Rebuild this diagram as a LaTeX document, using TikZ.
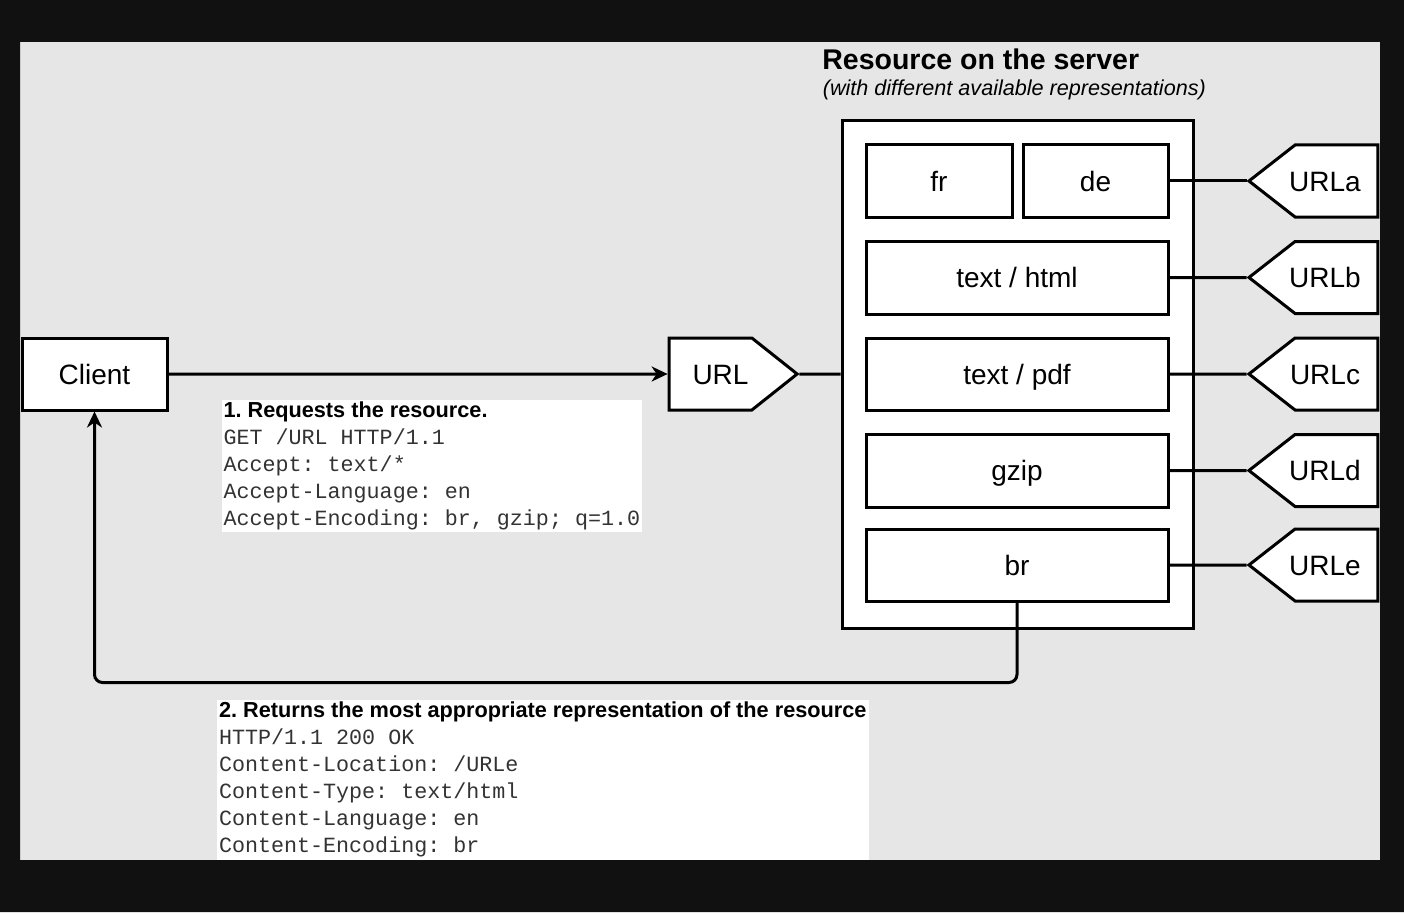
\documentclass[tikz,border=0pt]{standalone}
\usepackage{fontspec}
\setmainfont{Liberation Sans}
\setmonofont{Liberation Mono}
\usetikzlibrary{arrows.meta,shapes.symbols}
\definecolor{canvas}{HTML}{E6E6E6}
\definecolor{frame}{HTML}{111111}
\definecolor{codegray}{HTML}{333333}
\newcommand{\notehead}{\bfseries\fontsize{21.7}{27}\selectfont}
\frenchspacing

\begin{document}
\begin{tikzpicture}[x=1pt,y=-1pt,line width=3pt,>={Stealth[length=16pt,width=15pt,inset=5pt]},
  box/.style={rectangle,draw,fill=white,inner sep=0pt,text height=23pt,text depth=3pt,font=\fontsize{28}{32}\selectfont},
  tag/.style={signal,draw,fill=white,inner sep=0pt,minimum height=72pt,text height=23pt,text depth=3pt,font=\fontsize{28}{32}\selectfont},
  urltag/.style={tag,signal to=west,signal from=nowhere,signal pointer angle=76,minimum width=129pt},
  note/.style={fill=white,anchor=north west,align=left,inner xsep=2pt,inner ysep=2pt,font=\fontsize{21.7}{27}\selectfont}]
  \useasboundingbox (0,0) rectangle (1404,912);
  \fill[canvas] (20,42) rectangle (1380,860);

  \node[box,minimum width=145pt,minimum height=72pt] (client) at (94.5,374) {Client};
  \node[tag,signal to=east,signal from=nowhere,signal pointer angle=77,minimum width=128pt] (url) at (710.5,374) {\hspace{20pt}URL};

  \node[box,minimum width=351pt,minimum height=507pt] (server) at (1017.5,374.5) {};
  \node[anchor=west,font=\bfseries\fontsize{28.5}{32}\selectfont] (title) at (817.5,59) {Resource on the server};
  \node[anchor=west,font=\itshape\fontsize{21.6}{26}\selectfont] (subtitle) at (818,89.5) {(with different available representations)};

  \node[box,minimum width=146pt,minimum height=72pt] (fr) at (939,181) {fr};
  \node[box,minimum width=145pt,minimum height=72pt] (de) at (1095.5,181) {de};
  \node[box,minimum width=302pt,minimum height=73pt] (html) at (1017,277.5) {text / html};
  \node[box,minimum width=302pt,minimum height=72pt] (pdf) at (1017,374) {text / pdf};
  \node[box,minimum width=302pt,minimum height=73pt] (gzip) at (1017,470.5) {gzip};
  \node[box,minimum width=302pt,minimum height=72pt] (br) at (1017,565) {br};

  \node[urltag] (urla) at (1336.5,181) {\kern-23pt URLa};
  \node[urltag] (urlb) at (1336.5,277.5) {\kern-23pt URLb};
  \node[urltag] (urlc) at (1336.5,374) {\kern-23pt URLc};
  \node[urltag] (urld) at (1336.5,470.5) {\kern-23pt URLd};
  \node[urltag] (urle) at (1336.5,565) {\kern-23pt URLe};

  \node[note] (request) at (220,398) {{\notehead 1. Requests the resource.}\\
    \ttfamily\color{codegray}GET /URL HTTP/1.1\\
    \ttfamily\color{codegray}Accept: text/*\\
    \ttfamily\color{codegray}Accept-Language: en\\
    \ttfamily\color{codegray}Accept-Encoding: br, gzip; q=1.0};
  \node[note] (response) at (215.5,698) {{\notehead 2. Returns the most appropriate representation of the resource}\\
    \ttfamily\color{codegray}HTTP/1.1 200 OK\\
    \ttfamily\color{codegray}Content-Location: /URLe\\
    \ttfamily\color{codegray}Content-Type: text/html\\
    \ttfamily\color{codegray}Content-Language: en\\
    \ttfamily\color{codegray}Content-Encoding: br\\[20pt]};

  \draw[->] (client) -- (url);
  \draw (url) -- (server);
  \path
  (de) edge (urla)
  (html) edge (urlb)
  (pdf) edge (urlc)
  (gzip) edge (urld)
  (br) edge (urle);
  \draw[->,rounded corners=8pt] (br.south) -- ++(0,80) -| (client.south);

  % black frame round the canvas
  \fill[frame,even odd rule] (0,0) rectangle (1404,912) (20,42) rectangle (1380,860);
\end{tikzpicture}
\end{document}
